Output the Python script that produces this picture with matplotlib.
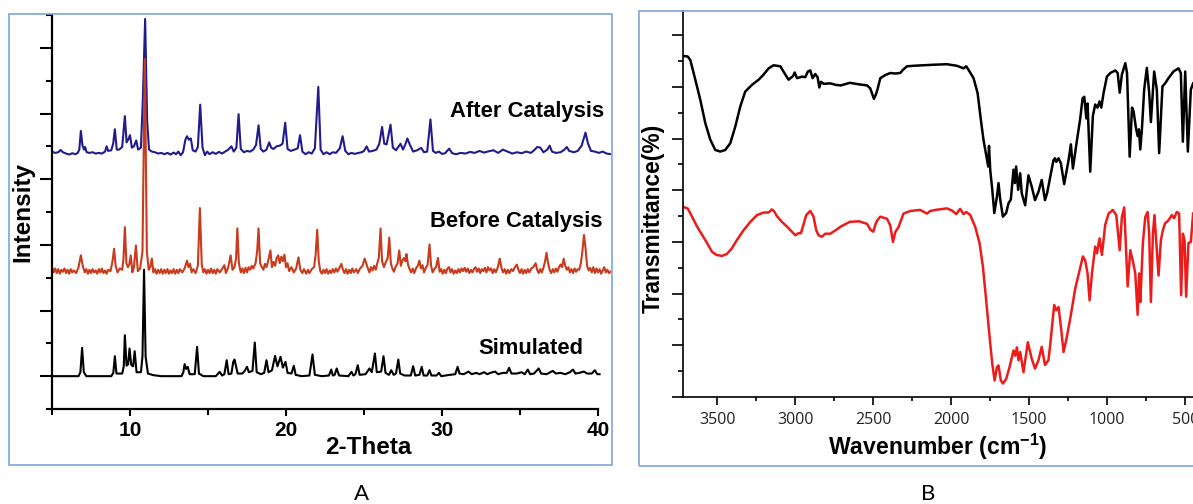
"""
Two-panel figure: PXRD patterns (A) and FTIR spectra (B)
"""

import numpy as np
import matplotlib
matplotlib.use('Agg')
import matplotlib.pyplot as plt
from matplotlib.patches import Rectangle
from matplotlib.ticker import MultipleLocator, FixedLocator

# ==================== DATA ====================

# PXRD, (2-theta, counts above the trace baseline)
SIMULATED = [
    (5.0, 0), (6.7, 0), (6.82, 60), (6.93, 431), (7.04, 60), (7.2, 0),
    (8.8, 0), (8.93, 50), (9.03, 304), (9.13, 40), (9.5, 40), (9.6, 150), (9.67, 624),
    (9.78, 160), (9.88, 180), (9.97, 421), (10.08, 170), (10.2, 150), (10.3, 380),
    (10.42, 60), (10.7, 60), (10.8, 300), (10.9, 1622), (11.0, 300), (11.15, 40),
    (11.5, 15), (12.0, 0), (13.3, 0), (13.42, 60), (13.5, 183), (13.6, 110), (13.7, 142),
    (13.82, 30), (14.15, 30), (14.3, 446), (14.42, 40), (14.7, 0), (15.5, 0), (15.75, 66),
    (15.9, 10), (16.05, 30), (16.2, 243), (16.32, 30), (16.5, 40), (16.62, 220), (16.7, 253),
    (16.8, 150), (16.9, 40), (17.2, 40), (17.35, 80), (17.5, 142), (17.62, 60), (17.85, 80),
    (18.0, 512), (18.12, 60), (18.4, 30), (18.6, 50), (18.75, 243), (18.88, 60), (19.1, 90),
    (19.3, 309), (19.45, 150), (19.65, 294), (19.8, 130), (19.97, 218), (20.1, 50),
    (20.35, 40), (20.5, 157), (20.62, 20), (21.0, 0), (21.5, 10), (21.7, 330), (21.85, 20),
    (22.3, 0), (22.75, 10), (22.9, 101), (23.0, 10), (23.12, 20), (23.25, 117), (23.4, 10),
    (24.0, 0), (24.2, 66), (24.32, 10), (24.45, 30), (24.6, 167), (24.72, 20), (25.1, 30),
    (25.35, 117), (25.5, 60), (25.7, 345), (25.82, 60), (26.1, 70), (26.25, 304), (26.38, 50),
    (26.6, 20), (26.75, 91), (26.9, 20), (27.05, 40), (27.2, 253), (27.32, 40), (27.6, 10),
    (28.0, 10), (28.15, 152), (28.28, 10), (28.55, 20), (28.7, 142), (28.82, 10), (29.05, 10),
    (29.2, 91), (29.32, 10), (29.65, 10), (29.8, 51), (29.95, 0), (30.5, 20), (30.85, 30),
    (31.0, 142), (31.12, 40), (31.4, 30), (31.7, 70), (31.9, 30), (32.2, 50), (32.4, 30),
    (32.7, 60), (32.9, 30), (33.1, 50), (33.4, 70), (33.6, 30), (33.9, 50), (34.15, 50),
    (34.3, 127), (34.45, 40), (34.8, 40), (35.1, 60), (35.3, 30), (35.5, 100), (35.65, 30),
    (35.9, 40), (36.2, 117), (36.35, 40), (36.7, 30), (37.1, 80), (37.3, 40), (37.6, 50),
    (37.9, 30), (38.2, 60), (38.4, 100), (38.55, 40), (38.8, 50), (39.1, 70), (39.3, 40),
    (39.6, 40), (39.8, 90), (39.95, 30), (40.1, 30),
]

BEFORE = [
    (5.0, 60), (5.1, -20), (5.2, 40), (5.3, -30), (5.4, 30), (5.5, -40), (5.6, 20), (5.7, -10),
    (5.8, 40), (5.9, -30), (6.0, 20), (6.1, -40), (6.2, 30), (6.3, -20), (6.4, 10), (6.55, -30),
    (6.7, 60), (6.85, 240), (6.97, 80), (7.1, -20), (7.2, 30), (7.3, -40), (7.4, 20), (7.5, -30),
    (7.6, 30), (7.7, -20), (7.8, 10), (7.9, -40), (8.0, 30), (8.1, -20), (8.2, 40), (8.3, -30),
    (8.4, 10), (8.5, -40), (8.6, 20), (8.75, 0), (8.88, 150), (8.98, 340), (9.08, 80),
    (9.2, -20), (9.35, 40), (9.5, 20), (9.58, 180), (9.67, 670), (9.77, 120), (9.87, 60),
    (9.95, 100), (10.05, 240), (10.15, -20), (10.25, 60), (10.38, 390), (10.5, 0), (10.65, 40),
    (10.8, 300), (10.95, 3230), (11.08, 300), (11.2, 20), (11.3, 60), (11.4, 190), (11.5, -20),
    (11.6, 30), (11.7, -40), (11.8, 20), (11.9, -30), (12.0, 30), (12.1, -40), (12.2, 20),
    (12.3, -30), (12.4, 30), (12.5, -40), (12.6, 10), (12.7, -30), (12.8, 30), (12.9, -40),
    (13.0, 20), (13.1, -30), (13.2, 30), (13.35, -20), (13.5, 40), (13.66, 160), (13.75, 60),
    (13.85, 110), (13.95, -20), (14.05, 30), (14.2, -30), (14.35, 80), (14.48, 960),
    (14.6, 100), (14.7, -20), (14.8, 30), (14.9, -40), (15.0, 20), (15.1, -30), (15.2, 40),
    (15.3, -30), (15.4, 20), (15.5, -40), (15.6, 30), (15.75, -20), (15.9, 30), (16.05, 90),
    (16.15, -30), (16.3, 60), (16.45, 240), (16.57, 20), (16.7, 60), (16.8, 200), (16.88, 650),
    (16.98, 120), (17.1, -20), (17.2, 40), (17.3, -30), (17.4, 50), (17.5, -20), (17.6, 60),
    (17.7, 20), (17.8, 80), (17.9, 40), (18.05, 120), (18.15, 300), (18.24, 650), (18.34, 120),
    (18.45, 60), (18.55, 20), (18.65, 110), (18.75, 60), (18.88, 180), (19.0, 315), (19.1, 60),
    (19.2, 140), (19.3, 80), (19.4, 200), (19.5, 240), (19.6, 120), (19.7, 220), (19.8, 150),
    (19.9, 250), (20.0, 60), (20.1, 120), (20.2, 0), (20.35, 60), (20.5, -20), (20.65, 40),
    (20.8, 210), (20.92, 20), (21.05, -30), (21.15, 30), (21.3, -40), (21.4, 20), (21.5, -30),
    (21.65, 30), (21.8, 60), (21.9, 250), (22.0, 630), (22.1, 150), (22.2, 0), (22.3, -40),
    (22.4, 20), (22.5, -30), (22.6, 30), (22.7, -40), (22.8, 10), (22.9, -30), (23.0, 30),
    (23.1, -20), (23.2, 40), (23.3, -10), (23.45, 60), (23.55, 110), (23.65, 20), (23.75, -30),
    (23.85, 30), (23.95, -40), (24.05, 20), (24.15, -30), (24.25, 40), (24.35, -20), (24.5, 30),
    (24.6, -30), (24.75, 40), (24.9, 80), (25.04, 190), (25.15, 110), (25.25, 40), (25.35, -20),
    (25.45, 60), (25.55, 10), (25.65, 80), (25.75, 20), (25.85, 120), (25.95, 200), (26.06, 650),
    (26.16, 150), (26.28, 60), (26.4, 140), (26.52, 200), (26.62, 510), (26.72, 120),
    (26.82, 40), (26.92, -10), (27.02, 60), (27.15, 120), (27.26, 315), (27.36, 80),
    (27.46, 160), (27.56, 200), (27.66, 150), (27.72, 260), (27.82, 100), (27.92, 30),
    (28.02, -20), (28.12, 40), (28.22, -30), (28.35, 50), (28.45, 80), (28.55, 160), (28.65, 40),
    (28.75, 90), (28.85, -20), (28.95, 40), (29.08, 100), (29.2, 405), (29.3, 80), (29.4, -20),
    (29.5, 30), (29.62, 60), (29.74, 200), (29.85, -10), (29.95, 30), (30.05, -40), (30.15, 20),
    (30.25, -30), (30.35, 40), (30.45, 60), (30.55, -20), (30.65, 30), (30.75, -40), (30.85, 10),
    (30.95, -30), (31.05, 30), (31.15, -20), (31.25, 40), (31.35, 0), (31.45, 50), (31.55, -10),
    (31.65, 40), (31.75, -30), (31.85, 20), (31.95, -20), (32.05, 30), (32.15, 60), (32.25, -10),
    (32.35, 40), (32.45, -30), (32.55, 30), (32.65, 0), (32.75, 50), (32.85, -20), (32.95, 60),
    (33.05, 10), (33.15, 40), (33.25, -30), (33.35, 30), (33.45, -20), (33.58, 60), (33.7, 190),
    (33.82, 40), (33.92, -20), (34.02, 30), (34.12, -40), (34.22, 20), (34.32, -30), (34.45, 30),
    (34.55, 0), (34.68, 60), (34.8, 100), (34.9, 20), (35.0, -30), (35.1, 30), (35.2, -40),
    (35.3, 20), (35.4, -30), (35.5, 30), (35.6, -20), (35.72, 40), (35.85, 60), (36.0, 120),
    (36.1, 20), (36.2, -30), (36.3, 30), (36.4, -20), (36.5, 50), (36.6, 140), (36.7, 280),
    (36.8, 120), (36.9, 20), (37.0, -30), (37.1, 30), (37.2, -20), (37.3, 40), (37.4, -10),
    (37.5, 60), (37.6, 100), (37.7, 60), (37.8, 190), (37.9, 80), (38.0, 20), (38.1, 60),
    (38.2, -20), (38.3, 30), (38.4, -30), (38.5, 40), (38.6, -10), (38.7, 30), (38.8, 20),
    (38.9, 120), (39.0, 300), (39.1, 550), (39.2, 350), (39.3, 80), (39.4, 10), (39.5, 50),
    (39.6, -20), (39.7, 60), (39.8, -30), (39.9, 40), (40.0, -20), (40.1, 30), (40.2, -40),
    (40.3, 10), (40.4, 60), (40.5, -20), (40.6, 20), (40.7, -30), (40.85, 0),
]

AFTER = [
    (5.0, 30), (5.2, 10), (5.4, 20), (5.55, 55), (5.7, 20), (5.9, 0), (6.1, -15), (6.3, 5),
    (6.5, -10), (6.65, 10), (6.75, 60), (6.85, 345), (6.95, 130), (7.05, 60), (7.12, 100),
    (7.22, 20), (7.4, 10), (7.6, 20), (7.8, 0), (8.0, 10), (8.2, 0), (8.4, 30), (8.5, 110),
    (8.6, 40), (8.8, 50), (8.92, 150), (9.03, 370), (9.15, 60), (9.3, 60), (9.5, 100),
    (9.67, 570), (9.78, 170), (9.9, 220), (10.0, 280), (10.12, 90), (10.25, 110), (10.4, 200),
    (10.52, 60), (10.7, 90), (10.82, 800), (10.97, 2050), (11.1, 500), (11.22, 60), (11.4, 30),
    (11.6, 20), (11.8, 0), (12.0, 10), (12.2, -10), (12.4, 10), (12.6, -15), (12.8, 15),
    (12.95, -10), (13.1, 30), (13.25, -25), (13.4, 20), (13.55, 210), (13.65, 264),
    (13.78, 210), (13.9, 230), (14.02, 50), (14.2, 30), (14.35, 100), (14.5, 745), (14.65, 90),
    (14.8, -25), (14.95, 30), (15.1, -10), (15.3, 20), (15.5, -5), (15.7, 25), (15.9, 0),
    (16.1, 30), (16.3, 60), (16.5, 110), (16.65, 30), (16.82, 90), (16.96, 600), (17.1, 70),
    (17.3, 20), (17.5, 40), (17.7, 30), (17.9, 60), (18.08, 130), (18.24, 430), (18.38, 70),
    (18.55, 30), (18.75, 60), (18.92, 170), (19.05, 90), (19.2, 70), (19.4, 110), (19.6, 120),
    (19.78, 150), (19.95, 470), (20.1, 70), (20.3, 40), (20.55, 60), (20.75, 80), (20.9, 280),
    (21.05, 30), (21.25, -10), (21.45, 20), (21.65, 0), (21.85, 80), (22.07, 1015), (22.22, 60),
    (22.4, -10), (22.6, 20), (22.8, -10), (23.0, 20), (23.2, 10), (23.45, 80), (23.63, 265),
    (23.8, 40), (24.0, -10), (24.2, 10), (24.4, -5), (24.65, 10), (24.85, 20), (25.0, 40),
    (25.17, 110), (25.32, 30), (25.55, 40), (25.8, 60), (25.98, 150), (26.16, 405), (26.3, 150),
    (26.45, 140), (26.7, 440), (26.85, 90), (27.05, 50), (27.34, 150), (27.5, 60), (27.65, 140),
    (27.78, 230), (27.95, 130), (28.15, 30), (28.4, 50), (28.67, 85), (28.85, 20), (29.05, 30),
    (29.26, 520), (29.42, 40), (29.6, 10), (29.8, 30), (30.0, -5), (30.2, 5), (30.46, 75),
    (30.65, 5), (30.9, -10), (31.2, 10), (31.5, 0), (31.8, 25), (32.1, 10), (32.4, 40),
    (32.7, 15), (33.0, 35), (33.3, 50), (33.6, 10), (33.9, 60), (34.2, 30), (34.5, 0),
    (34.8, 20), (35.1, 5), (35.4, 30), (35.7, 10), (35.95, 60), (36.1, 100), (36.3, 90),
    (36.5, 20), (36.75, 60), (36.9, 120), (37.05, 30), (37.3, 10), (37.6, 20), (37.85, 60),
    (38.0, 100), (38.15, 40), (38.45, 20), (38.7, 40), (38.95, 120), (39.2, 320), (39.35, 160),
    (39.55, 40), (39.8, 30), (40.05, 10), (40.3, 30), (40.55, 0), (40.85, -10),
]

BEFORE_OFFSET = 1600
AFTER_OFFSET = 3390

# FTIR, (wavenumber cm-1, transmittance a.u.)
IR_BLACK = [
    (3720, 66.0), (3690, 65.9), (3673, 65.2), (3641, 61.4), (3609, 57.5), (3577, 53.0),
    (3545, 49.8), (3513, 47.8), (3481, 47.5), (3449, 47.8), (3417, 49.1), (3385, 52.3),
    (3353, 56.2), (3321, 59.1), (3278, 60.4), (3235, 61.4), (3203, 62.4), (3171, 63.6),
    (3139, 64.2), (3096, 64.0), (3064, 62.4), (3043, 61.4), (3015, 62.1), (3004, 62.8),
    (2989, 61.7), (2957, 62.0), (2936, 61.9), (2919, 63.0), (2904, 63.2), (2889, 61.7),
    (2872, 62.5), (2857, 61.9), (2846, 59.9), (2835, 61.0), (2818, 60.6), (2776, 60.7),
    (2740, 60.4), (2708, 60.3), (2650, 60.8), (2590, 60.5), (2540, 60.3), (2519, 59.7),
    (2505, 58.5), (2496, 57.7), (2485, 58.4), (2474, 59.4), (2455, 61.7), (2423, 62.3),
    (2391, 62.7), (2359, 62.6), (2327, 62.7), (2310, 63.3), (2284, 64.0), (2241, 64.1),
    (2177, 64.2), (2114, 64.3), (2028, 64.4), (1964, 64.1), (1921, 63.6), (1904, 64.0),
    (1889, 63.3), (1857, 61.7), (1831, 58.8), (1810, 53.6), (1793, 49.7), (1776, 46.8),
    (1763, 44.6), (1758, 48.6), (1750, 43.9), (1737, 40.1), (1724, 35.6), (1707, 38.8),
    (1697, 41.4), (1686, 38.2), (1669, 34.9), (1648, 35.6), (1633, 37.5), (1618, 38.2),
    (1601, 44.0), (1592, 41.4), (1584, 44.6), (1571, 40.1), (1558, 43.3), (1548, 39.4),
    (1526, 37.1), (1505, 42.9), (1484, 40.7), (1463, 38.1), (1441, 39.7), (1420, 42.0),
    (1399, 38.1), (1385, 39.5), (1360, 43.5), (1345, 45.8), (1335, 46.2), (1327, 45.5),
    (1312, 46.2), (1297, 45.2), (1276, 41.2), (1248, 45.8), (1233, 48.9), (1220, 44.2),
    (1194, 49.7), (1173, 53.9), (1158, 57.8), (1147, 58.1), (1134, 53.9), (1126, 56.8),
    (1109, 43.6), (1092, 54.4), (1077, 56.6), (1062, 56.0), (1049, 57.2), (1038, 56.0),
    (1023, 58.9), (1002, 62.0), (980, 62.7), (948, 63.2), (933, 62.7), (920, 58.9),
    (906, 62.4), (884, 64.6), (873, 62.7), (856, 46.5), (841, 56.0), (831, 55.3), (816, 52.1),
    (805, 50.5), (797, 51.8), (788, 47.9), (777, 52.1), (763, 59.5), (746, 63.7), (731, 58.9),
    (720, 53.2), (699, 63.0), (682, 59.5), (667, 47.2), (646, 60.1), (629, 60.7), (607, 61.7),
    (575, 63.0), (543, 63.6), (528, 62.7), (515, 49.4), (500, 63.0), (483, 47.5), (464, 59.5),
    (449, 60.7),
]

IR_RED = [
    (3720, 36.8), (3690, 36.5), (3662, 34.9), (3630, 33.0), (3598, 31.4), (3566, 29.8),
    (3534, 28.1), (3506, 27.5), (3470, 27.3), (3438, 27.7), (3406, 28.8), (3374, 30.4),
    (3331, 32.3), (3288, 33.9), (3246, 35.2), (3203, 35.7), (3171, 35.7), (3150, 36.3),
    (3135, 35.9), (3118, 35.0), (3086, 33.9), (3054, 33.0), (3022, 32.0), (3000, 31.3),
    (2979, 31.7), (2964, 31.7), (2951, 33.0), (2930, 35.2), (2904, 36.0), (2883, 34.9),
    (2866, 32.3), (2851, 31.3), (2830, 31.0), (2808, 31.6), (2776, 31.6), (2740, 32.3),
    (2708, 33.0), (2650, 33.9), (2590, 34.0), (2540, 33.5), (2519, 32.4), (2500, 32.0),
    (2485, 33.5), (2474, 34.2), (2455, 34.9), (2412, 34.5), (2391, 33.2), (2374, 30.0),
    (2359, 31.9), (2338, 32.9), (2306, 35.5), (2263, 36.0), (2199, 36.2), (2156, 35.5),
    (2135, 36.0), (2103, 36.2), (2028, 36.5), (1996, 36.1), (1968, 35.4), (1943, 36.4),
    (1921, 35.4), (1904, 35.8), (1878, 35.2), (1846, 32.9), (1818, 29.7), (1797, 25.2),
    (1776, 18.7), (1754, 11.6), (1737, 6.4), (1722, 3.2), (1707, 5.8), (1697, 6.1),
    (1682, 3.2), (1669, 2.6), (1648, 3.5), (1626, 5.8), (1611, 7.7), (1601, 9.0), (1590, 8.0),
    (1579, 9.6), (1569, 7.1), (1558, 8.7), (1537, 4.8), (1509, 10.6), (1484, 7.4),
    (1463, 5.5), (1441, 7.1), (1420, 9.7), (1399, 6.2), (1377, 7.1), (1366, 10.0),
    (1340, 17.8), (1327, 16.8), (1312, 17.4), (1297, 13.6), (1280, 8.7), (1263, 11.0),
    (1237, 15.2), (1205, 21.0), (1177, 24.5), (1156, 27.2), (1141, 26.4), (1126, 23.9),
    (1113, 18.7), (1098, 23.9), (1077, 29.1), (1066, 27.8), (1049, 30.7), (1034, 27.5),
    (1013, 33.3), (991, 35.5), (964, 36.2), (942, 35.2), (920, 28.4), (906, 34.8), (891, 36.7),
    (869, 21.4), (852, 28.4), (835, 26.2), (820, 23.9), (805, 15.9), (795, 23.9), (788, 18.4),
    (771, 30.0), (756, 34.8), (741, 35.8), (731, 31.6), (720, 18.4), (707, 31.6), (697, 35.2),
    (682, 28.4), (671, 23.5), (656, 30.3), (643, 32.3), (629, 33.6), (607, 34.2), (586, 35.2),
    (571, 34.6), (554, 35.8), (539, 35.5), (526, 19.7), (515, 31.6), (504, 30.3), (494, 19.4),
    (479, 29.8), (464, 30.0), (449, 35.5),
]

XRD_TICKS = [10, 20, 30, 40]
IR_TICKS = [3500, 3000, 2500, 2000, 1500, 1000, 500]

# ==================== STYLE ====================

W, H = 1193, 504
plt.rcParams['font.family'] = ['Liberation Sans', 'DejaVu Sans']
plt.rcParams['mathtext.fontset'] = 'custom'
plt.rcParams['mathtext.rm'] = 'Liberation Sans'
plt.rcParams['mathtext.bf'] = 'Liberation Sans:bold'

FRAME_COLOR = '#7ba6dc'
BLUE = '#221b8c'
XRD_RED = '#c83b1c'
IR_RED_COLOR = '#ee1b1b'


def fx(px):
    return px / W


def fy(py):
    return 1 - py / H


def axes_px(fig, left, top, right, bottom):
    return fig.add_axes([fx(left), fy(bottom), fx(right - left), (bottom - top) / H])


fig = plt.figure(figsize=(W / 100, H / 100), dpi=100)

# ==================== PANEL A ====================

axA = axes_px(fig, 52, 15, 611, 409)
for pts, off, col in [(SIMULATED, 0, 'black'), (AFTER, AFTER_OFFSET, BLUE),
                      (BEFORE, BEFORE_OFFSET, XRD_RED)]:
    x, y = np.array(pts, dtype=float).T
    axA.plot(x, y + off, color=col, lw=1.5, solid_joinstyle='round')

axA.set_xlim(5, 5 + (611 - 52) / 15.6)
axA.set_ylim(-500, 5500)
for s in ['top', 'right']:
    axA.spines[s].set_visible(False)
for s in ['left', 'bottom']:
    axA.spines[s].set_linewidth(1.6)
axA.spines['bottom'].set_bounds(5, 40)

axA.xaxis.set_major_locator(FixedLocator(XRD_TICKS))
axA.xaxis.set_minor_locator(FixedLocator([5, 15, 25, 35]))
axA.yaxis.set_major_locator(MultipleLocator(1000))
axA.yaxis.set_minor_locator(FixedLocator(np.arange(-500, 5600, 1000)))
axA.tick_params(axis='x', which='major', direction='out', length=5, width=1.5, pad=4)
axA.tick_params(axis='x', which='minor', direction='out', length=4, width=1.5)
axA.tick_params(axis='y', which='major', direction='out', length=9, width=1.5, labelleft=False)
axA.tick_params(axis='y', which='minor', direction='out', length=4, width=1.5)
for lab in axA.get_xticklabels():
    lab.set_fontweight('bold')
    lab.set_fontsize(15)

fig.text(fx(23), fy(212), 'Intensity', rotation=90, fontsize=17.5, fontweight='bold',
         ha='center', va='center')
fig.text(fx(368), fy(448), '2-Theta', fontsize=17.5, fontweight='bold', ha='center', va='center')
fig.text(fx(604), fy(111), 'After Catalysis', fontsize=15.8, fontweight='bold',
         ha='right', va='center')
fig.text(fx(603), fy(221), 'Before Catalysis', fontsize=15.8, fontweight='bold',
         ha='right', va='center')
fig.text(fx(583), fy(349), 'Simulated', fontsize=15.8, fontweight='bold', ha='right', va='center')

# ==================== PANEL B ====================

axB = axes_px(fig, 683, 11, 1193, 397)
x, y = np.array(IR_BLACK, dtype=float).T
axB.plot(x, y, color='black', lw=1.8)
x, y = np.array(IR_RED, dtype=float).T
axB.plot(x, y, color=IR_RED_COLOR, lw=1.8)

axB.set_xlim(3720, 450)
axB.set_ylim(0, 74.7)
for s in ['top', 'right']:
    axB.spines[s].set_visible(False)
for s in ['left', 'bottom']:
    axB.spines[s].set_linewidth(1.2)

axB.xaxis.set_major_locator(FixedLocator(IR_TICKS))
axB.xaxis.set_minor_locator(FixedLocator([3250, 2750, 2250, 1750, 1250, 750]))
axB.yaxis.set_major_locator(MultipleLocator(10))
axB.yaxis.set_minor_locator(FixedLocator(np.arange(5, 70, 10)))
axB.tick_params(axis='x', which='major', direction='out', length=6, width=1.2, pad=5,
                labelsize=11.5)
axB.tick_params(axis='x', which='minor', direction='out', length=3, width=1.2)
axB.tick_params(axis='y', which='major', direction='out', length=8, width=1.2, labelleft=False)
axB.tick_params(axis='y', which='minor', direction='out', length=3.5, width=1.2)
for lab in axB.get_xticklabels():
    lab.set_fontfamily('Open Sans')
    lab.set_color('#222222')

fig.text(fx(653), fy(218), 'Transmittance(%)', rotation=90, fontsize=16.4, fontweight='bold',
         ha='center', va='center')
fig.text(fx(938), fy(447), r'Wavenumber (cm$^{\mathbf{-1}}$)', fontsize=16.6,
         fontweight='bold', ha='center', va='center')

# ==================== FRAMES & PANEL LETTERS ====================

fig.patches.append(Rectangle((fx(9), fy(465)), fx(612 - 9), (465 - 14) / H, fill=False,
                             edgecolor=FRAME_COLOR, lw=1.2, transform=fig.transFigure))
fig.patches.append(Rectangle((fx(639), fy(466)), 1.0, (466 - 11) / H, fill=False,
                             edgecolor=FRAME_COLOR, lw=1.2, transform=fig.transFigure))

fig.text(fx(362), fy(494), 'A', fontsize=16, family='Lato', ha='center', va='center')
fig.text(fx(928), fy(494), 'B', fontsize=16, family='Lato', ha='center', va='center')

fig.savefig('out.png', dpi=100)
